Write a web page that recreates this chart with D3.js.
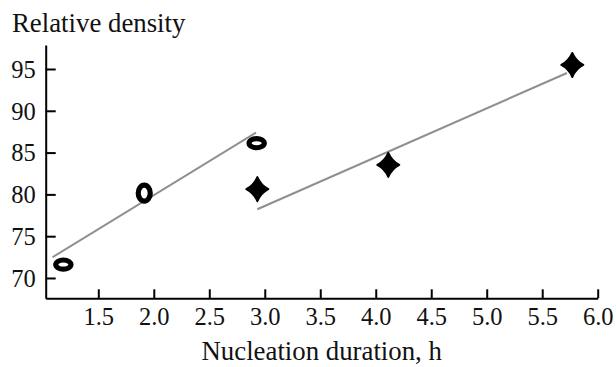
<!DOCTYPE html>
<html>
<head>
<meta charset="utf-8">
<script src="https://cdn.jsdelivr.net/npm/d3@7/dist/d3.min.js"></script>
<style>
  html, body { margin: 0; padding: 0; background: #fff; }
  svg { display: block; }
</style>
</head>
<body>
<svg id="chart" width="616" height="367"></svg>
<script>
// ---- data ----
const xTicks = [1.5, 2.0, 2.5, 3.0, 3.5, 4.0, 4.5, 5.0, 5.5, 6.0];
const yTicks = [70, 75, 80, 85, 90, 95];
const ringX = [1.185, 1.914, 2.927];
const ringY = [71.6, 80.15, 86.13];
const starX = [2.933, 4.113, 5.771];
const starY = [80.63, 83.53, 95.48];
const fit1X = [1.087, 2.921];
const fit1Y = [72.48, 87.39];
const fit2X = [2.933, 5.723];
const fit2Y = [78.22, 94.52];
const xLabel = "Nucleation duration, h";
const yLabel = "Relative density";

// ---- styles ----
const ringShape = [[7.6, 4.6], [6.0, 8.0], [7.6, 4.6]];
const font = "'Liberation Serif', 'Times New Roman', serif";

const svg = d3.select("#chart");
const x = d3.scaleLinear().domain([1.026, 6.0]).range([45.7, 597.7]);
const y = d3.scaleLinear().domain([67.57, 97.87]).range([298.3, 45]);

// x axis
const gx = svg.append("g")
  .attr("transform", `translate(0,${y.range()[0]})`)
  .call(d3.axisBottom(x).tickValues(xTicks).tickFormat(d3.format(".1f"))
    .tickSizeInner(-9).tickSizeOuter(0));
gx.select(".domain").attr("stroke", "#000").attr("stroke-width", 2);
gx.selectAll(".tick line").attr("stroke", "#000").attr("stroke-width", 2);
gx.selectAll(".tick text").attr("y", 27).attr("dy", 0)
  .attr("font-family", font).attr("font-size", 24.5).attr("fill", "#111");

// y axis
const gy = svg.append("g")
  .attr("transform", `translate(${x.range()[0]},0)`)
  .call(d3.axisLeft(y).tickValues(yTicks).tickFormat(d3.format("d"))
    .tickSizeInner(-10).tickSizeOuter(0));
gy.select(".domain").attr("stroke", "#000").attr("stroke-width", 2);
gy.selectAll(".tick line").attr("stroke", "#000").attr("stroke-width", 2);
gy.selectAll(".tick text").attr("x", -10).attr("dy", "0.34em")
  .attr("font-family", font).attr("font-size", 24.5).attr("fill", "#111");

// titles
svg.append("text").attr("x", 12).attr("y", 31.5)
  .attr("font-family", font).attr("font-size", 26.8).attr("fill", "#111")
  .text(yLabel);
svg.append("text").attr("x", (x.range()[0] + x.range()[1]) / 2).attr("y", 360)
  .attr("text-anchor", "middle")
  .attr("font-family", font).attr("font-size", 26.8).attr("fill", "#111")
  .text(xLabel);

// fit lines
const line = d3.line().x(d => x(d[0])).y(d => y(d[1]));
[[fit1X, fit1Y], [fit2X, fit2Y]].forEach(([xs, ys]) => {
  svg.append("path")
    .datum(xs.map((v, i) => [v, ys[i]]))
    .attr("d", line)
    .attr("fill", "none")
    .attr("stroke", "#8f8f8f")
    .attr("stroke-width", 2);
});

// ring markers
svg.append("g").selectAll("ellipse")
  .data(ringX.map((v, i) => ({ x: v, y: ringY[i], s: ringShape[i] })))
  .join("ellipse")
  .attr("cx", d => x(d.x)).attr("cy", d => y(d.y))
  .attr("rx", d => d.s[0]).attr("ry", d => d.s[1])
  .attr("fill", "none").attr("stroke", "#000").attr("stroke-width", 5.2);

// star markers
function starPath(rx, ry) {
  const kx = 0.32 * rx, ky = 0.32 * ry;
  return `M0,${-ry} Q${kx},${-ky} ${rx},0 Q${kx},${ky} 0,${ry} Q${-kx},${ky} ${-rx},0 Q${-kx},${-ky} 0,${-ry}Z`;
}
svg.append("g").selectAll("path")
  .data(starX.map((v, i) => ({ x: v, y: starY[i] })))
  .join("path")
  .attr("transform", d => `translate(${x(d.x)},${y(d.y)})`)
  .attr("d", starPath(11, 12))
  .attr("fill", "#000").attr("stroke", "#000").attr("stroke-width", 2)
  .attr("stroke-linejoin", "round");
</script>
</body>
</html>
